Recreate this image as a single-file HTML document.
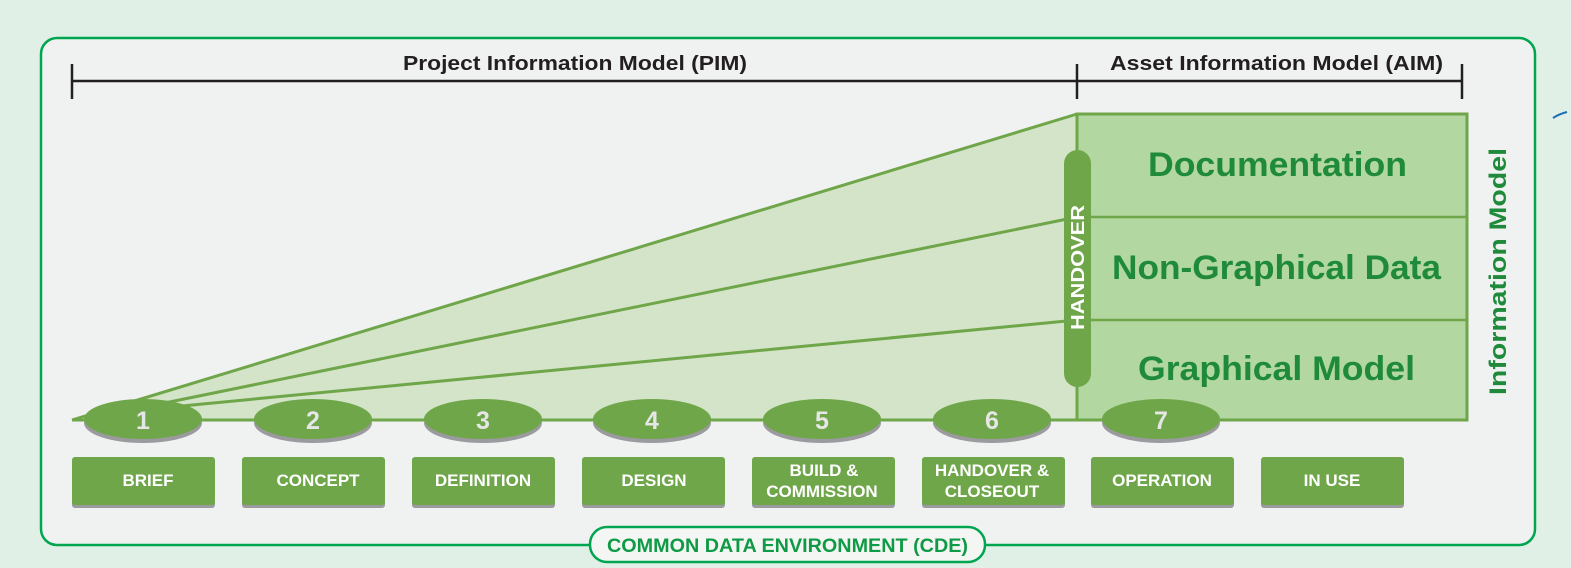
<!DOCTYPE html>
<html><head><meta charset="utf-8"><style>
html,body{margin:0;padding:0;background:#e0f0e6;}
svg{display:block;font-family:"Liberation Sans",sans-serif;}
</style></head><body>
<svg width="1571" height="568" viewBox="0 0 1571 568" xmlns="http://www.w3.org/2000/svg">
<rect x="0" y="0" width="1571" height="568" fill="#e0f0e6"/>
<rect x="41" y="38" width="1494" height="507" rx="16" fill="#f0f2f1" stroke="#00a550" stroke-width="2.5"/>
<path d="M1553 118 q6 -4 14 -6" stroke="#1a6fb5" stroke-width="2" fill="none"/>
<g stroke="#231f20" stroke-width="2.5">
<line x1="72" y1="81" x2="1462" y2="81"/>
<line x1="72" y1="64" x2="72" y2="99"/>
<line x1="1077" y1="64" x2="1077" y2="99"/>
<line x1="1462" y1="64" x2="1462" y2="99"/>
</g>
<text x="403" y="70" textLength="344" lengthAdjust="spacingAndGlyphs" font-size="20" font-weight="bold" fill="#231f20">Project Information Model (PIM)</text>
<text x="1110" y="70" textLength="333" lengthAdjust="spacingAndGlyphs" font-size="20" font-weight="bold" fill="#231f20">Asset Information Model (AIM)</text>
<polygon points="72,420 1077,114 1077,420" fill="#d3e4c8"/>
<g stroke="#6fa64a" stroke-width="3" fill="none">
<line x1="72" y1="420" x2="1077" y2="114"/>
<line x1="140" y1="408" x2="1077" y2="217"/>
<line x1="140" y1="410" x2="1077" y2="320"/>
</g>
<rect x="1077" y="114" width="390" height="306" fill="#b3d7a0" stroke="#6fa64a" stroke-width="3"/>
<line x1="1077" y1="217" x2="1467" y2="217" stroke="#6fa64a" stroke-width="2.5"/>
<line x1="1077" y1="320" x2="1467" y2="320" stroke="#6fa64a" stroke-width="2.5"/>
<g font-size="34" font-weight="bold" fill="#1e8a3a">
<text x="1148" y="176" textLength="259" lengthAdjust="spacingAndGlyphs">Documentation</text>
<text x="1112" y="279" textLength="329" lengthAdjust="spacingAndGlyphs">Non-Graphical Data</text>
<text x="1138" y="380" textLength="277" lengthAdjust="spacingAndGlyphs">Graphical Model</text>
</g>
<text transform="translate(1506,395) rotate(-90)" textLength="247" lengthAdjust="spacingAndGlyphs" font-size="24" font-weight="bold" fill="#1e8a3a">Information Model</text>
<rect x="1064" y="150" width="27" height="237" rx="13.5" fill="#6fa64a"/>
<text transform="translate(1084,330) rotate(-90)" textLength="125" lengthAdjust="spacingAndGlyphs" font-size="18" font-weight="bold" fill="#ffffff">HANDOVER</text>
<line x1="72" y1="420" x2="1467" y2="420" stroke="#6fa64a" stroke-width="3"/>
<g font-size="25" font-weight="bold" fill="#e6e6e6" text-anchor="middle">
<ellipse cx="143" cy="423" rx="59" ry="20" fill="#9a9a9f"/><ellipse cx="143" cy="419" rx="59" ry="20" fill="#6fa64a"/><text x="143" y="429">1</text>
<ellipse cx="313" cy="423" rx="59" ry="20" fill="#9a9a9f"/><ellipse cx="313" cy="419" rx="59" ry="20" fill="#6fa64a"/><text x="313" y="429">2</text>
<ellipse cx="483" cy="423" rx="59" ry="20" fill="#9a9a9f"/><ellipse cx="483" cy="419" rx="59" ry="20" fill="#6fa64a"/><text x="483" y="429">3</text>
<ellipse cx="652" cy="423" rx="59" ry="20" fill="#9a9a9f"/><ellipse cx="652" cy="419" rx="59" ry="20" fill="#6fa64a"/><text x="652" y="429">4</text>
<ellipse cx="822" cy="423" rx="59" ry="20" fill="#9a9a9f"/><ellipse cx="822" cy="419" rx="59" ry="20" fill="#6fa64a"/><text x="822" y="429">5</text>
<ellipse cx="992" cy="423" rx="59" ry="20" fill="#9a9a9f"/><ellipse cx="992" cy="419" rx="59" ry="20" fill="#6fa64a"/><text x="992" y="429">6</text>
<ellipse cx="1161" cy="423" rx="59" ry="20" fill="#9a9a9f"/><ellipse cx="1161" cy="419" rx="59" ry="20" fill="#6fa64a"/><text x="1161" y="429">7</text>
</g>
<g fill="#9a9a9f">
<rect x="72" y="460" width="143" height="48" rx="3"/><rect x="242" y="460" width="143" height="48" rx="3"/><rect x="412" y="460" width="143" height="48" rx="3"/><rect x="582" y="460" width="143" height="48" rx="3"/><rect x="752" y="460" width="143" height="48" rx="3"/><rect x="922" y="460" width="143" height="48" rx="3"/><rect x="1091" y="460" width="143" height="48" rx="3"/><rect x="1261" y="460" width="143" height="48" rx="3"/>
</g>
<g fill="#6fa64a">
<rect x="72" y="457" width="143" height="48" rx="3"/><rect x="242" y="457" width="143" height="48" rx="3"/><rect x="412" y="457" width="143" height="48" rx="3"/><rect x="582" y="457" width="143" height="48" rx="3"/><rect x="752" y="457" width="143" height="48" rx="3"/><rect x="922" y="457" width="143" height="48" rx="3"/><rect x="1091" y="457" width="143" height="48" rx="3"/><rect x="1261" y="457" width="143" height="48" rx="3"/>
</g>
<g font-size="17" font-weight="bold" fill="#ffffff" text-anchor="middle">
<text x="148" y="486">BRIEF</text>
<text x="318" y="486">CONCEPT</text>
<text x="483" y="486">DEFINITION</text>
<text x="654" y="486">DESIGN</text>
<text x="824" y="476">BUILD &amp;</text><text x="822" y="497">COMMISSION</text>
<text x="992" y="476">HANDOVER &amp;</text><text x="992" y="497">CLOSEOUT</text>
<text x="1162" y="486">OPERATION</text>
<text x="1332" y="486">IN USE</text>
</g>
<rect x="590" y="527" width="395" height="35" rx="17" fill="#f4f6f4" stroke="#00a550" stroke-width="2.5"/>
<text x="607" y="552" textLength="361" lengthAdjust="spacingAndGlyphs" font-size="19" font-weight="bold" fill="#0f9a46">COMMON DATA ENVIRONMENT (CDE)</text>
</svg>
</body></html>
